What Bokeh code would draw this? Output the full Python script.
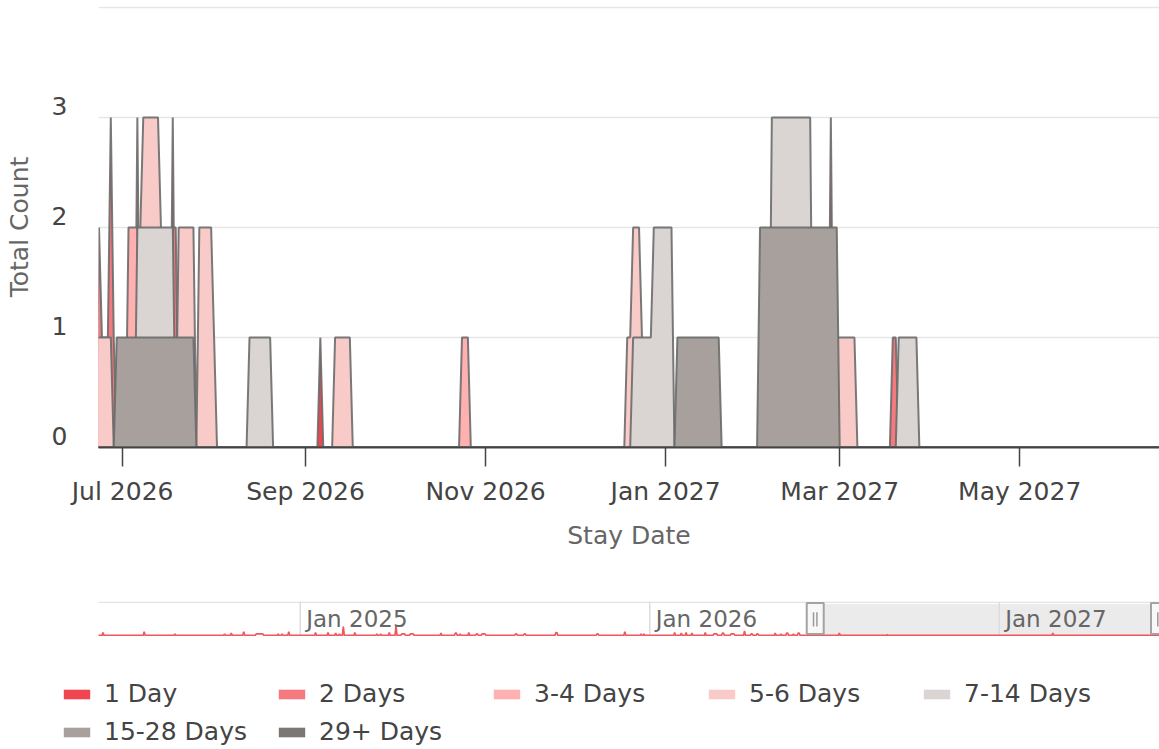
import math
from datetime import datetime, timedelta
import pandas as pd
from bokeh.plotting import figure
from bokeh.layouts import column
from bokeh.models import (ColumnDataSource, Range1d, MonthsTicker, DatetimeTickFormatter,
                          FixedTicker, NumeralTickFormatter, Grid, Label, Legend, LegendItem,
                          BoxAnnotation, Span)
from bokeh.embed import file_html
from bokeh.resources import INLINE

FONT = "DejaVu Sans"

# ---------------- data ----------------
series_names = ["1 Day", "2 Days", "3-4 Days", "5-6 Days", "7-14 Days", "15-28 Days", "29+ Days"]
series_colors = ["#ef4650", "#f47a7f", "#ffb0b0", "#f9cbc8", "#dad4d2", "#a8a09d", "#7b7774"]

# daily counts given as runs: (first day, last day, count); every other day is 0
one_day_runs = [
    ("2024-06-09", "2024-06-09", 4), ("2024-07-22", "2024-07-22", 5), ("2024-08-23", "2024-08-23", 2),
    ("2024-10-14", "2024-10-14", 2), ("2024-10-21", "2024-10-21", 3), ("2024-11-03", "2024-11-03", 5),
    ("2024-11-16", "2024-11-23", 2), ("2024-12-09", "2024-12-09", 2), ("2024-12-13", "2024-12-13", 2),
    ("2024-12-20", "2024-12-20", 5), ("2025-01-17", "2025-01-17", 4), ("2025-01-30", "2025-01-30", 4),
    ("2025-02-07", "2025-02-07", 3), ("2025-02-11", "2025-02-11", 2), ("2025-02-15", "2025-02-15", 12),
    ("2025-02-27", "2025-02-27", 4), ("2025-03-22", "2025-03-22", 2), ("2025-03-26", "2025-03-26", 2),
    ("2025-04-04", "2025-04-04", 4), ("2025-04-11", "2025-04-11", 13), ("2025-04-17", "2025-04-20", 2),
    ("2025-04-26", "2025-04-29", 2), ("2025-05-28", "2025-05-28", 3), ("2025-06-12", "2025-06-13", 3),
    ("2025-06-17", "2025-06-17", 2), ("2025-06-26", "2025-06-26", 4), ("2025-07-04", "2025-07-05", 2),
    ("2025-07-10", "2025-07-13", 2), ("2025-08-14", "2025-08-15", 2), ("2025-08-23", "2025-08-24", 2),
    ("2025-09-25", "2025-09-26", 4), ("2025-11-07", "2025-11-08", 2), ("2025-12-06", "2025-12-06", 5),
    ("2025-12-23", "2025-12-23", 2), ("2025-12-26", "2025-12-26", 2), ("2026-01-27", "2026-01-27", 4),
    ("2026-02-03", "2026-02-03", 3), ("2026-02-08", "2026-02-08", 4), ("2026-02-14", "2026-02-14", 3),
    ("2026-02-28", "2026-02-28", 4), ("2026-03-09", "2026-03-12", 2), ("2026-03-18", "2026-03-19", 3),
    ("2026-03-27", "2026-03-30", 2), ("2026-04-10", "2026-04-10", 6), ("2026-04-17", "2026-04-18", 2),
    ("2026-04-23", "2026-04-24", 2), ("2026-05-12", "2026-05-12", 3), ("2026-05-18", "2026-05-18", 2),
    ("2026-05-24", "2026-05-25", 3), ("2026-05-31", "2026-05-31", 2), ("2026-06-05", "2026-06-06", 3),
    ("2026-07-18", "2026-07-18", 3), ("2026-09-06", "2026-09-06", 1), ("2027-02-26", "2027-02-26", 3),
]
two_days_runs = [
    ("2026-06-23", "2026-06-23", 2), ("2026-06-24", "2026-06-26", 1), ("2026-06-27", "2026-06-27", 3),
    ("2026-06-28", "2026-06-28", 1), ("2026-07-06", "2026-07-06", 3), ("2026-07-18", "2026-07-19", 2),
    ("2027-03-19", "2027-03-20", 1),
]
three_four_days_runs = [
    ("2026-07-03", "2026-07-06", 2), ("2026-10-24", "2026-10-26", 1),
]
five_six_days_runs = [
    ("2026-06-20", "2026-06-27", 1), ("2026-07-07", "2026-07-07", 2), ("2026-07-08", "2026-07-13", 3),
    ("2026-07-14", "2026-07-14", 2), ("2026-07-20", "2026-07-25", 2), ("2026-07-27", "2026-07-31", 2),
    ("2026-08-01", "2026-08-01", 1), ("2026-09-11", "2026-09-16", 1), ("2026-12-19", "2026-12-20", 1),
    ("2026-12-21", "2026-12-23", 2), ("2026-12-24", "2026-12-24", 1), ("2027-02-25", "2027-03-06", 1),
]
seven_fourteen_days_runs = [
    ("2026-07-06", "2026-07-18", 2), ("2026-08-13", "2026-08-20", 1), ("2026-12-21", "2026-12-27", 1),
    ("2026-12-28", "2027-01-03", 2), ("2027-02-06", "2027-02-19", 3), ("2027-03-21", "2027-03-27", 1),
]
fifteen_28_days_runs = [
    ("2026-06-29", "2026-07-25", 1), ("2027-01-05", "2027-01-19", 1), ("2027-02-02", "2027-02-28", 2),
]
twenty_nine_plus_runs = []

series_runs = [one_day_runs, two_days_runs, three_four_days_runs, five_six_days_runs,
               seven_fourteen_days_runs, fifteen_28_days_runs, twenty_nine_plus_runs]

data_first_day = "2024-05-25"
data_last_day = "2027-06-30"

y_tick_values = [0, 1, 2, 3]
y_grid_values = [1, 2, 3, 4]
x_tick_months = [0, 2, 4, 6, 8, 10]   # Jan, Mar, May, Jul, Sep, Nov

main_start = datetime(2026, 6, 22, 19, 55)
main_end = datetime(2027, 6, 17, 8, 53)
slider_start = datetime(2024, 6, 4, 7, 40)
slider_end = main_end


def daily_counts(runs):
    days = pd.date_range(data_first_day, data_last_day, freq="D")
    counts = pd.Series(0.0, index=days)
    for first, last, n in runs:
        counts.loc[first:last] = n
    return days, counts.to_numpy()


def ms(dt):
    return (dt - datetime(1970, 1, 1)).total_seconds() * 1000.0


# ---------------- main chart ----------------
LEFT = 98
FRAME_W = 1061
MAIN_H = 441
Y0, Y1 = 0, 4.01

p = figure(x_axis_type="datetime", x_range=Range1d(main_start, main_end), y_range=Range1d(Y0, Y1),
           frame_width=FRAME_W, frame_height=MAIN_H, min_border_left=LEFT, min_border_right=0,
           min_border_top=6, min_border_bottom=154,
           toolbar_location=None, output_backend="svg", outline_line_color=None,
           background_fill_color="white", border_fill_color="white")
p.xgrid.visible = False
p.ygrid.visible = False
p.add_layout(Grid(dimension=1, ticker=FixedTicker(ticks=y_grid_values),
                  grid_line_color="#e6e6e6", grid_line_width=1.5))

for name, color, runs in zip(series_names, series_colors, series_runs):
    days, counts = daily_counts(runs)
    src = ColumnDataSource(dict(x=days, y=counts))
    p.varea(x="x", y1=0, y2="y", source=src, fill_color=color)
    p.line(x="x", y="y", source=src, line_color="#6c6c6c", line_alpha=0.9, line_width=2)

ax = p.xaxis[0]
ax.ticker = MonthsTicker(months=x_tick_months)
ax.formatter = DatetimeTickFormatter(months="%b %Y", days="%b %Y", years="%b %Y")
ax.axis_line_color = "#444444"
ax.axis_line_width = 2
ax.major_tick_line_color = "#444444"
ax.major_tick_line_width = 1.5
ax.major_tick_out = 19
ax.major_tick_in = 0
ax.minor_tick_line_color = None
ax.major_label_text_font = FONT
ax.major_label_text_font_size = "25px"
ax.major_label_text_color = "#444444"
ax.major_label_standoff = 10
ax.axis_label = "Stay Date"
ax.axis_label_text_font = FONT
ax.axis_label_text_font_size = "25px"
ax.axis_label_text_color = "#666666"
ax.axis_label_text_font_style = "normal"
ax.axis_label_standoff = 12

# y labels sit a little above their grid lines
px_per_unit = MAIN_H / (Y1 - Y0)
lift = 12 / px_per_unit
yax = p.yaxis[0]
yax.ticker = FixedTicker(ticks=[v + lift for v in y_tick_values])
yax.formatter = NumeralTickFormatter(format="0")
yax.axis_line_color = None
yax.major_tick_line_color = None
yax.minor_tick_line_color = None
yax.major_tick_out = 0
yax.major_tick_in = 0
yax.major_label_standoff = 31
yax.major_label_text_font = FONT
yax.major_label_text_font_size = "25px"
yax.major_label_text_color = "#444444"
yax.axis_label = "Total Count"
yax.axis_label_text_font = FONT
yax.axis_label_text_font_size = "25px"
yax.axis_label_text_color = "#666666"
yax.axis_label_text_font_style = "normal"
yax.axis_label_standoff = 15

# ---------------- range slider ----------------
SL_H = 35
SY0, SY1 = -1.5, 46.4
s = figure(x_axis_type="datetime", x_range=Range1d(slider_start, slider_end),
           y_range=Range1d(SY0, SY1), frame_width=FRAME_W, frame_height=SL_H,
           min_border_left=LEFT, min_border_right=0, min_border_top=0, min_border_bottom=0,
           x_axis_location=None, y_axis_location=None, toolbar_location=None,
           output_backend="svg", outline_line_color=None,
           background_fill_color="white", border_fill_color="white")
s.xgrid.visible = False
s.ygrid.visible = False


def sy(px_from_bottom):
    return SY0 + (SY1 - SY0) * px_from_bottom / SL_H


s.add_layout(BoxAnnotation(left=ms(main_start), right=ms(main_end), top=sy(32.5),
                           fill_color="#ebebeb", fill_alpha=1, line_color=None, level="underlay"))
s.add_layout(Span(location=sy(34.3), dimension="width", line_color="#e3e3e3", line_width=1.5,
                  level="underlay"))
years = [y for y in range(slider_start.year, slider_end.year + 1)
         if slider_start <= datetime(y, 1, 1) <= slider_end]
for yr in years:
    s.add_layout(Span(location=ms(datetime(yr, 1, 1)), dimension="height", line_color="#dcdcdc",
                      line_width=1.5, level="underlay"))

days1, counts1 = daily_counts(one_day_runs)
s.line(x=days1, y=counts1, line_color="#f0575d", line_width=1.7)

for yr in years:
    s.add_layout(Label(x=ms(datetime(yr, 1, 1)), y=sy(18), x_offset=6, text=f"Jan {yr}",
                       text_align="left", text_baseline="middle", text_font=FONT,
                       text_font_size="23px", text_color="#666666"))

# handles of the selected window
slider_days = (slider_end - slider_start).total_seconds() / 86400
px_per_day = FRAME_W / slider_days
gap = timedelta(days=1.7 / px_per_day)
handles = [main_start, main_end]
s.rect(x=handles, y=[sy(18)] * 2, width=17, height=31, width_units="screen", height_units="screen",
       fill_color="#f8f8f8", line_color="#a3a3a3", line_width=2)
bar_x = [h + d for h in handles for d in (-gap, gap)]
s.segment(x0=bar_x, y0=[sy(10)] * 4, x1=bar_x, y1=[sy(24.3)] * 4,
          line_color="#9a9a9a", line_width=1.5)

# ---------------- legend ----------------
LG_H = 112
lg = figure(x_range=Range1d(0, 1), y_range=Range1d(0, 1), frame_width=LEFT + FRAME_W,
            frame_height=LG_H, min_border_left=0, min_border_right=0, min_border_top=0,
            min_border_bottom=0, x_axis_location=None, y_axis_location=None,
            toolbar_location=None, output_backend="svg", outline_line_color=None,
            background_fill_color="white", border_fill_color="white")
lg.xgrid.visible = False
lg.ygrid.visible = False
items = []
for name, color in zip(series_names, series_colors):
    # legend-only swatch renderers (zero-height, outside the visible range)
    r = lg.varea(x=[-2, -1], y1=[0, 0], y2=[0, 0], fill_color=color)
    t = lg.line(x=[-2, -1], y=[0, 0], line_color="#a0a0a0", line_width=1.5)
    items.append(LegendItem(label=name, renderers=[r]))
legend = Legend(items=items, orientation="horizontal", ncols=5, location=(60, 2),
                glyph_width=33, glyph_height=12, label_standoff=11, label_width=162, spacing=9,
                padding=0, margin=0, border_line_color=None, background_fill_alpha=0,
                label_text_font=FONT, label_text_font_size="25px", label_text_color="#444444")
lg.add_layout(legend, "center")

layout = column(p, s, lg)
open("out.html", "w").write(file_html(layout, INLINE))
